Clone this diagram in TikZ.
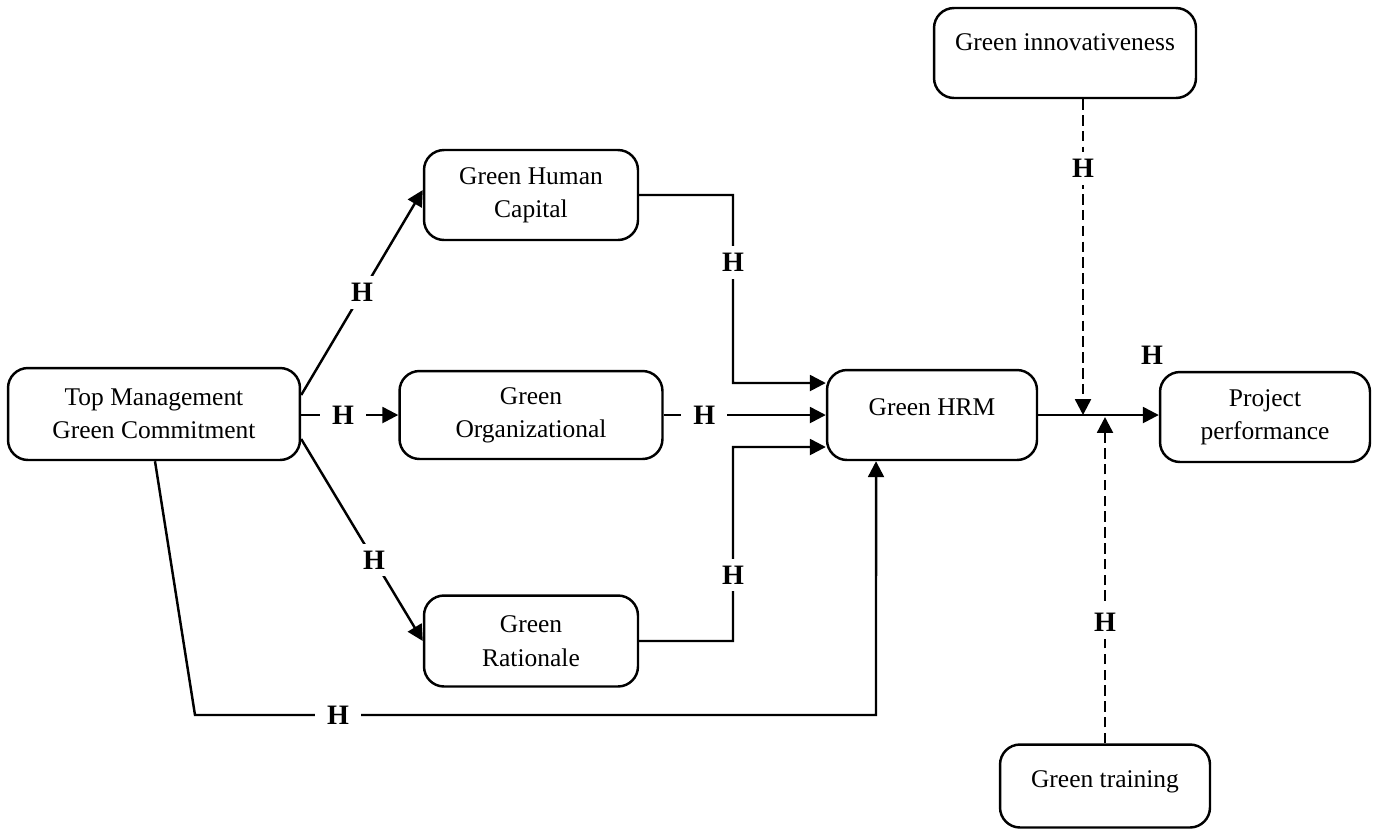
\documentclass[tikz,border=0pt]{standalone}
\usepackage{fontspec}
\setmainfont{Liberation Serif}
\usetikzlibrary{arrows.meta}

\tikzset{
  box/.style={draw, line width=1.4pt, rounded corners=0.4cm, align=center,
    font=\fontsize{14.5}{19}\selectfont},
  link/.style={line width=1.4pt},
  hlabel/.style={fill=white, inner xsep=7pt, inner ysep=4pt, font=\fontsize{16}{18}\selectfont\bfseries},
  tip/.style={-{Triangle[length=9pt,width=9pt]}},
  modline/.style={dash pattern=on 6pt off 3pt}
}

\begin{document}
\begin{tikzpicture}[x=0.02cm, y=-0.02cm]
  \useasboundingbox (0,0) rectangle (1375,833);

  % Boxes
  \node[box, minimum width=5.84cm, minimum height=1.84cm] (tm) at (154,414) {Top Management\\Green Commitment};
  \node[box, minimum width=4.28cm, minimum height=1.8cm] (ghc) at (531,195) {Green Human\\Capital};
  \node[box, minimum width=5.26cm, minimum height=1.76cm] (gorg) at (531,415) {Green\\Organizational};
  \node[box, minimum width=4.28cm, minimum height=1.82cm] (grat) at (531,641) {Green\\Rationale};
  \node[box, minimum width=4.2cm, minimum height=1.8cm,
    label={[anchor=north, yshift=-0.48cm, font=\fontsize{14.5}{19}\selectfont]north:Green HRM}] (hrm) at (932,415) {};
  \node[box, minimum width=4.2cm, minimum height=1.8cm] (pp) at (1265,417) {Project\\performance};
  \node[box, minimum width=5.24cm, minimum height=1.8cm,
    label={[anchor=north, yshift=-0.42cm, font=\fontsize{14.5}{19}\selectfont]north:Green innovativeness}] (ginn) at (1065,53) {};
  \node[box, minimum width=4.2cm, minimum height=1.66cm,
    label={[anchor=north, yshift=-0.42cm, font=\fontsize{14.5}{19}\selectfont]north:Green training}] (gtr) at (1105,786) {};

  % Top management to the three mediators
  \draw[link, tip] ([yshift=0.38cm]tm.east) -- node[hlabel] {H} ([yshift=0.1cm]ghc.west);
  \draw[link, tip] ([yshift=-0.02cm]tm.east) -- node[hlabel, pos=0.43] {H} (gorg.west);
  \draw[link, tip] ([yshift=-0.5cm]tm.east) -- node[hlabel, pos=0.6] {H} (grat.west);

  % Mediators to Green HRM
  \coordinate (hrm1) at ([yshift=0.64cm]hrm.west);
  \coordinate (hrm2) at (hrm.west);
  \coordinate (hrm3) at ([yshift=-0.64cm]hrm.west);
  \draw[link, tip] (ghc.east) -| node[hlabel, pos=0.68] {H} (733,383) -- (hrm1);
  \draw[link, tip] (gorg.east) -- node[hlabel, pos=0.25] {H} (hrm2);
  \draw[link, tip] (grat.east) -| node[hlabel, pos=0.67] {H} (733,447) -- (hrm3);

  % Direct path
  \coordinate (dbend) at (195,715);
  \draw[link, tip] ([xshift=0.02cm]tm.south) -- (dbend) -- node[hlabel, pos=0.21] {H} (876,715) -- ([xshift=-1.12cm]hrm.south);

  % Green HRM to project performance
  \coordinate (join) at (hrm.east);
  \draw[link, tip] (join) -- (pp.west |- join);
  \node[font=\fontsize{16}{18}\selectfont\bfseries] (hmod) at (1152,355) {H};

  % Moderators
  \draw[link, modline, tip] (ginn.south -| 1083,0) -- node[hlabel, pos=0.22] {H} (1083,415);
  \draw[link, modline, tip] (gtr.north -| 1105,0) -- node[hlabel, pos=0.37] {H} (1105,417);

\end{tikzpicture}
\end{document}
